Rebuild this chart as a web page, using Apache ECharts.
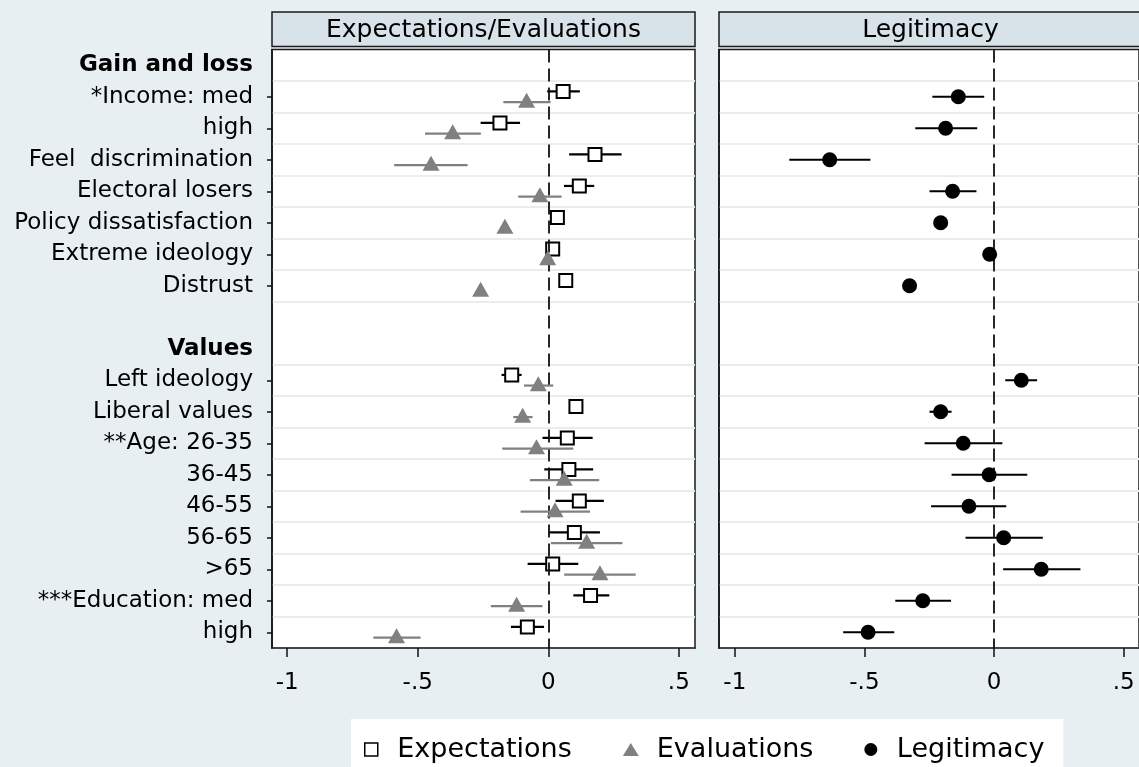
<!DOCTYPE html>
<html>
<head>
<meta charset="utf-8">
<script src="https://cdn.jsdelivr.net/npm/echarts@6/dist/echarts.min.js"></script>
<style>
html,body{margin:0;padding:0;background:#e8eff2;}
#chart{width:1139px;height:767px;}
</style>
</head>
<body>
<div id="chart"></div>
<script>
// ---------- data ----------
const categories = ['Gain and loss','*Income: med','high','Feel  discrimination','Electoral losers',
  'Policy dissatisfaction','Extreme ideology','Distrust','','Values','Left ideology','Liberal values',
  '**Age: 26-35','36-45','46-55','56-65','>65','***Education: med','high'];
const headerRows = [0, 9];
const panelTitles = ['Expectations/Evaluations', 'Legitimacy'];
const seriesNames = ['Expectations', 'Evaluations', 'Legitimacy'];
const xTicks = [-1, -0.5, 0, 0.5];

const expCoef = [null, 0.057,-0.185, 0.179, 0.119, 0.035, 0.017, 0.067, null, null,-0.140, 0.106, 0.073, 0.079, 0.119, 0.100, 0.017, 0.162,-0.080];
const expLo   = [null,-0.004,-0.259, 0.080, 0.060, 0.025, 0.007, 0.057, null, null,-0.179, 0.085,-0.022,-0.015, 0.028, 0.003,-0.079, 0.096,-0.143];
const expHi   = [null, 0.121,-0.108, 0.281, 0.176, 0.045, 0.027, 0.077, null, null,-0.102, 0.132, 0.170, 0.172, 0.213, 0.198, 0.115, 0.234,-0.016];

const evaCoef = [null,-0.083,-0.366,-0.449,-0.032,-0.166,-0.002,-0.259, null, null,-0.038,-0.098,-0.045, 0.061, 0.026, 0.147, 0.198,-0.121,-0.581];
const evaLo   = [null,-0.172,-0.472,-0.590,-0.115,-0.180,-0.012,-0.270, null, null,-0.093,-0.134,-0.176,-0.070,-0.106, 0.010, 0.061,-0.220,-0.670];
const evaHi   = [null, 0.009,-0.258,-0.309, 0.051,-0.152, 0.008,-0.248, null, null, 0.019,-0.060, 0.096, 0.195, 0.160, 0.284, 0.335,-0.022,-0.489];

const legCoef = [null,-0.138,-0.187,-0.634,-0.160,-0.206,-0.017,-0.326, null, null, 0.105,-0.206,-0.119,-0.019,-0.097, 0.037, 0.182,-0.275,-0.486];
const legLo   = [null,-0.238,-0.304,-0.790,-0.249,-0.220,-0.030,-0.340, null, null, 0.043,-0.249,-0.268,-0.164,-0.243,-0.110, 0.035,-0.381,-0.582];
const legHi   = [null,-0.038,-0.065,-0.477,-0.068,-0.190,-0.005,-0.310, null, null, 0.166,-0.164, 0.032, 0.128, 0.047, 0.188, 0.333,-0.166,-0.385];

// ---------- helpers ----------
const FONT = 'DejaVu Sans';
function points(coef) {
  const out = [];
  coef.forEach((v, i) => { if (v != null) out.push([v, i]); });
  return out;
}
function ranges(lo, hi) {
  const out = [];
  lo.forEach((v, i) => { if (v != null) out.push([v, hi[i], i]); });
  return out;
}
function whisker(name, axis, lo, hi, dy, color, z) {
  return {
    type: 'custom', name: name, xAxisIndex: axis, yAxisIndex: axis, z: z,
    data: ranges(lo, hi),
    encode: { x: [0, 1], y: 2 },
    silent: true,
    renderItem: function (params, api) {
      const a = api.coord([api.value(0), api.value(2)]);
      const b = api.coord([api.value(1), api.value(2)]);
      return { type: 'line',
        shape: { x1: a[0], y1: a[1] + dy, x2: b[0], y2: b[1] + dy },
        style: { stroke: color, lineWidth: 2.2 } };
    }
  };
}
function zeroLine(axis) {
  return {
    type: 'scatter', name: 'zero' + axis, xAxisIndex: axis, yAxisIndex: axis, data: [], z: 2,
    markLine: { silent: true, symbol: 'none', label: { show: false }, animation: false,
      lineStyle: { color: '#111', width: 1.8, type: [13, 6] },
      data: [{ xAxis: 0 }] }
  };
}
function xAxisFor(i, min) {
  return {
    type: 'value', gridIndex: i, min: min, max: min + 1.62,
    axisLine: { show: true, onZero: false, lineStyle: { color: '#111', width: 1.5 } },
    axisTick: { show: true, customValues: xTicks, length: 9, lineStyle: { color: '#111', width: 1.5 } },
    axisLabel: { customValues: xTicks, margin: 24, fontFamily: FONT, fontSize: 23, color: '#000',
      formatter: v => (v === 0 ? '0' : String(v).replace('0.', '.')) },
    splitLine: { show: false }
  };
}
function gridLineAt(idx) {
  return idx >= 1 && idx <= 18 && idx !== 9;
}
function yAxisFor(i) {
  return {
    type: 'category', gridIndex: i, data: categories, inverse: true, boundaryGap: true,
    axisLine: { show: true, onZero: false, lineStyle: { color: '#111', width: 1.5 } },
    axisTick: { show: i === 0, alignWithLabel: true, length: 5,
      interval: idx => !headerRows.includes(idx) && categories[idx] !== '',
      lineStyle: { color: '#111', width: 1.5 } },
    splitLine: { show: true, interval: idx => gridLineAt(idx),
      lineStyle: { color: '#e6eef1', width: 2 } },
    axisLabel: { show: i === 0, interval: 0, margin: 19, fontFamily: FONT, fontSize: 23, color: '#000',
      formatter: (v, idx) => headerRows.includes(idx) ? '{b|' + v + '}' : v,
      rich: { b: { fontFamily: FONT, fontSize: 23, fontWeight: 'bold', color: '#000' } } }
  };
}
function strip(x, w, text) {
  return {
    type: 'group', children: [
      { type: 'rect', shape: { x: x, y: 12, width: w, height: 34.5 },
        style: { fill: '#d8e3e9', stroke: '#1a1a1a', lineWidth: 1.5 } },
      { type: 'text', x: x + w / 2, y: 30,
        style: { text: text, fontFamily: FONT, fontSize: 25, fill: '#000', align: 'center', verticalAlign: 'middle' } }
    ]
  };
}

// ---------- chart ----------
const chart = echarts.init(document.getElementById('chart'), null, { renderer: 'canvas' });
const option = {
  backgroundColor: '#e8eff2',
  animation: false,
  grid: [
    { left: 272, top: 49.5, width: 423, height: 598.5, show: true, backgroundColor: '#fff', borderColor: '#1a1a1a', borderWidth: 1.5 },
    { left: 719, top: 49.5, width: 423, height: 598.5, show: true, backgroundColor: '#fff', borderColor: '#1a1a1a', borderWidth: 1.5 }
  ],
  xAxis: [xAxisFor(0, -1.058), xAxisFor(1, -1.061)],
  yAxis: [yAxisFor(0), yAxisFor(1)],
  graphic: [strip(272, 423, panelTitles[0]), strip(719, 423, panelTitles[1])],
  legend: {
    left: 351, top: 719, backgroundColor: '#fff', padding: [17, 19, 10, 13],
    itemWidth: 16, itemHeight: 13, itemGap: 51, selectedMode: false, symbolKeepAspect: true,
    textStyle: { fontFamily: FONT, fontSize: 27, color: '#000', padding: [0, 0, 0, 13] },
    data: [
      { name: seriesNames[0], icon: 'path://M0,0L10,0L10,10L0,10Z', itemStyle: { color: '#fff', borderColor: '#000', borderWidth: 1.5 } },
      { name: seriesNames[1], icon: 'triangle', itemStyle: { color: '#808080' } },
      { name: seriesNames[2], icon: 'circle', itemStyle: { color: '#000' } }
    ]
  },
  series: [
    zeroLine(0), zeroLine(1),
    whisker('expCI', 0, expLo, expHi, -5.3, '#000', 3),
    { type: 'scatter', name: seriesNames[0], xAxisIndex: 0, yAxisIndex: 0, z: 4,
      data: points(expCoef), symbol: 'rect', symbolSize: 13, symbolOffset: [0, -5.3],
      itemStyle: { color: '#fff', borderColor: '#000', borderWidth: 2, opacity: 1 } },
    whisker('evaCI', 0, evaLo, evaHi, 5.3, '#808080', 5),
    { type: 'scatter', name: seriesNames[1], xAxisIndex: 0, yAxisIndex: 0, z: 6,
      data: points(evaCoef), symbol: 'triangle', symbolSize: [17, 15], symbolOffset: [0, 3.5],
      itemStyle: { color: '#808080', opacity: 1 } },
    whisker('legCI', 1, legLo, legHi, 0, '#000', 3),
    { type: 'scatter', name: seriesNames[2], xAxisIndex: 1, yAxisIndex: 1, z: 6,
      data: points(legCoef), symbol: 'circle', symbolSize: 15,
      itemStyle: { color: '#000', opacity: 1 } }
  ]
};
chart.setOption(option);
</script>
</body>
</html>
